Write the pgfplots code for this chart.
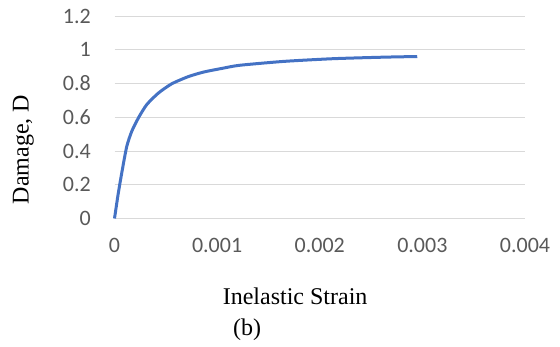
\documentclass[border=0pt]{standalone}
\usepackage{pgfplots}
\pgfplotsset{compat=1.18}
\usepackage{fontspec}
\setmainfont{Liberation Serif}
\newfontfamily\tickfont{Carlito}
\definecolor{curveblue}{RGB}{68,114,196}
\definecolor{gridgray}{RGB}{217,217,217}
\definecolor{ticktext}{RGB}{89,89,89}
\begin{document}
\begin{tikzpicture}
\useasboundingbox (0bp,0bp) rectangle (560bp,-347bp);
\begin{axis}[
  at={(114.5bp,-218.5bp)}, anchor=south west,
  scale only axis, width=410.5bp, height=202.5bp,
  xmin=0, xmax=0.004, ymin=0, ymax=1.2,
  xtick={0,0.001,0.002,0.003,0.004},
  xticklabels={0,0.001,0.002,0.003,0.004},
  ytick={0,0.2,0.4,0.6,0.8,1,1.2},
  yticklabels={0,0.2,0.4,0.6,0.8,1,1.2},
  scaled x ticks=false,
  axis line style={draw=none},
  tick style={draw=none},
  ymajorgrids,
  grid style={draw=gridgray, line width=1bp},
  ticklabel style={font=\tickfont\fontsize{22bp}{25bp}\selectfont, text=ticktext, inner sep=0pt},
  yticklabel style={anchor=east, xshift=-23.5bp},
  xticklabel style={anchor=north, yshift=-20bp},
  xlabel={Inelastic Strain},
  ylabel={Damage, D},
  label style={font=\fontsize{24bp}{28bp}\selectfont, inner sep=0pt},
  xlabel style={at={(rel axis cs:0.44,-0.425)}, anchor=base},
  ylabel style={at={(rel axis cs:-0.2093,0.34)}, anchor=base, rotate=0},
  clip=false,
]
\addplot[curveblue, line width=3bp, smooth, tension=0.4] coordinates {
(0,0)
(0.000037,0.15)
(0.000076,0.288)
(0.000119,0.426)
(0.000167,0.515)
(0.000232,0.595)
(0.000313,0.674)
(0.000427,0.743)
(0.000557,0.798)
(0.00072,0.841)
(0.00087,0.868)
(0.00106,0.891)
(0.00122,0.908)
(0.00165,0.931)
(0.00213,0.947)
(0.00262,0.956)
(0.00295,0.960)
};
\end{axis}
\node[anchor=base, inner sep=0pt, font=\fontsize{24bp}{28bp}\selectfont] at (247bp,-335.5bp) {(b)};
\end{tikzpicture}
\end{document}
